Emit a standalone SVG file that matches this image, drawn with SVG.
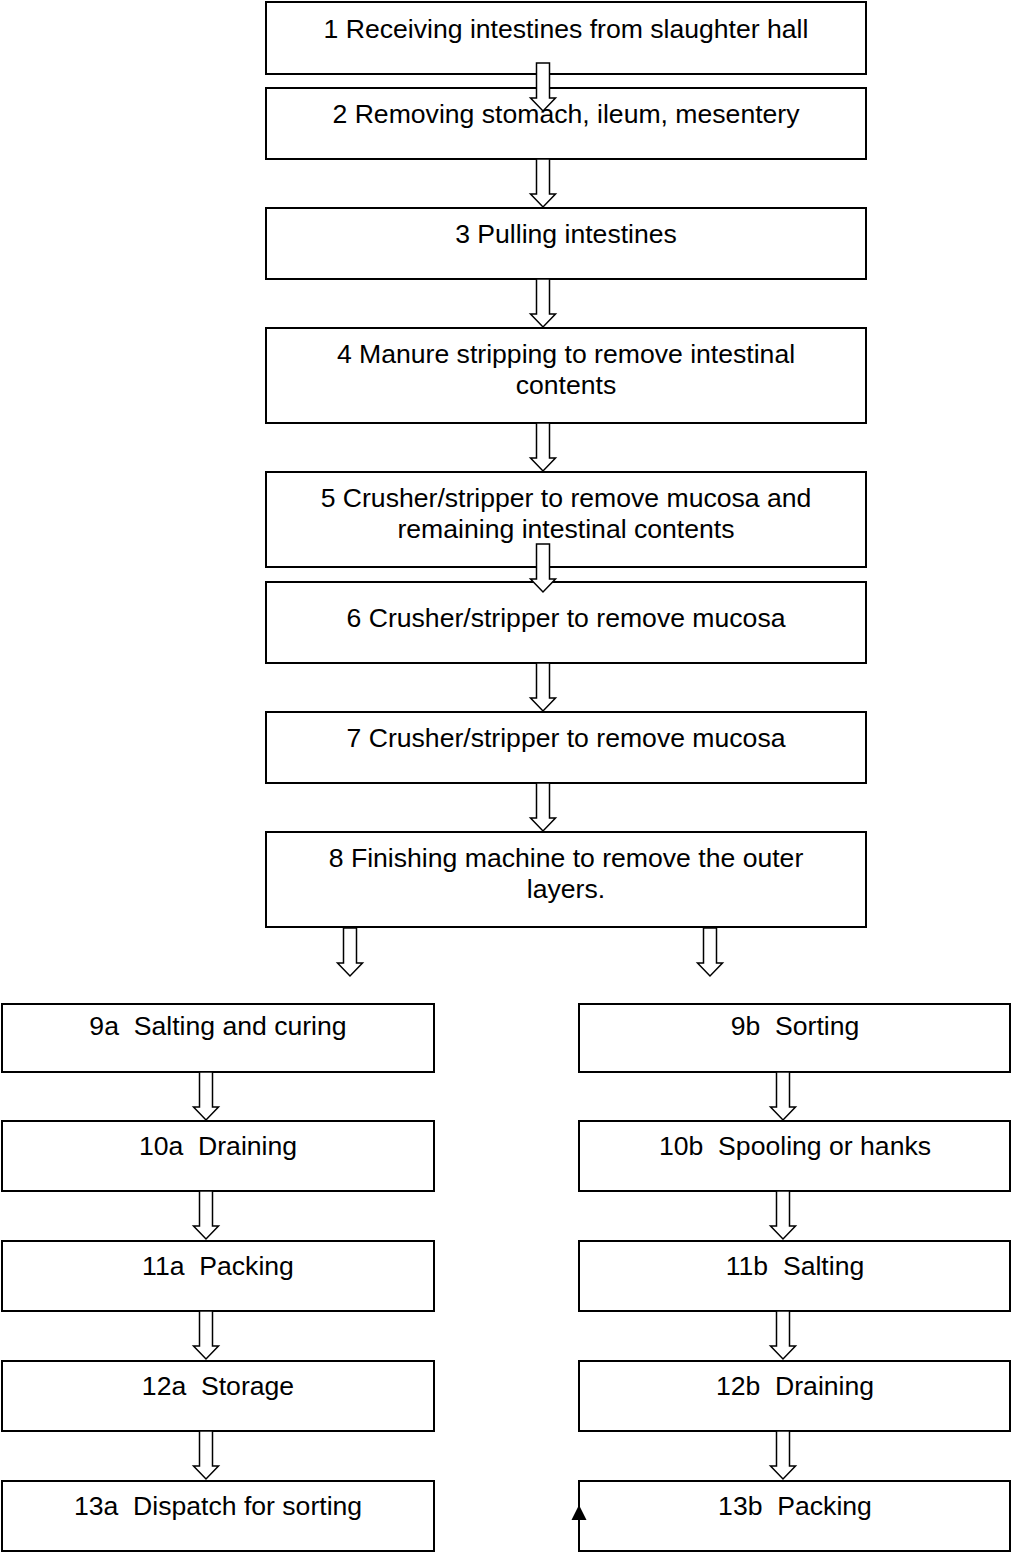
<svg xmlns="http://www.w3.org/2000/svg" width="1012" height="1553" viewBox="0 0 1012 1553">
<style>
.box{fill:#fff;stroke:#000;stroke-width:2}
.t{font-family:"Liberation Sans",Arial,sans-serif;font-size:26.6px;fill:#000;text-anchor:middle;white-space:pre}
.arr{fill:#fff;stroke:#000;stroke-width:1.5}
</style>
<defs>
<path id="ba" d="M-6.5,0 H6.5 V35 H12.5 L0,48 L-12.5,35 H-6.5 Z"/>
</defs>
<g id="n1"><rect class="box" x="266" y="2" width="600" height="72"/><text class="t" x="566" y="38">1 Receiving intestines from slaughter hall</text></g>
<g id="n2"><rect class="box" x="266" y="88" width="600" height="71"/><text class="t" x="566" y="123">2 Removing stomach, ileum, mesentery</text></g>
<g id="n3"><rect class="box" x="266" y="208" width="600" height="71"/><text class="t" x="566" y="243">3 Pulling intestines</text></g>
<g id="n4"><rect class="box" x="266" y="328" width="600" height="95"/><text class="t" x="566" y="363">4 Manure stripping to remove intestinal</text><text class="t" x="566" y="394">contents</text></g>
<g id="n5"><rect class="box" x="266" y="472" width="600" height="95"/><text class="t" x="566" y="507">5 Crusher/stripper to remove mucosa and</text><text class="t" x="566" y="538">remaining intestinal contents</text></g>
<g id="n6"><rect class="box" x="266" y="582" width="600" height="81"/><text class="t" x="566" y="627">6 Crusher/stripper to remove mucosa</text></g>
<g id="n7"><rect class="box" x="266" y="712" width="600" height="71"/><text class="t" x="566" y="747">7 Crusher/stripper to remove mucosa</text></g>
<g id="n8"><rect class="box" x="266" y="832" width="600" height="95"/><text class="t" x="566" y="867">8 Finishing machine to remove the outer</text><text class="t" x="566" y="898">layers.</text></g>
<g id="n9a"><rect class="box" x="2" y="1004" width="432" height="68"/><text class="t" x="218" y="1035">9a  Salting and curing</text></g>
<g id="n10a"><rect class="box" x="2" y="1121" width="432" height="70"/><text class="t" x="218" y="1155">10a  Draining</text></g>
<g id="n11a"><rect class="box" x="2" y="1241" width="432" height="70"/><text class="t" x="218" y="1275">11a  Packing</text></g>
<g id="n12a"><rect class="box" x="2" y="1361" width="432" height="70"/><text class="t" x="218" y="1395">12a  Storage</text></g>
<g id="n13a"><rect class="box" x="2" y="1481" width="432" height="70"/><text class="t" x="218" y="1515">13a  Dispatch for sorting</text></g>
<g id="n9b"><rect class="box" x="579" y="1004" width="431" height="68"/><text class="t" x="795" y="1035">9b  Sorting</text></g>
<g id="n10b"><rect class="box" x="579" y="1121" width="431" height="70"/><text class="t" x="795" y="1155">10b  Spooling or hanks</text></g>
<g id="n11b"><rect class="box" x="579" y="1241" width="431" height="70"/><text class="t" x="795" y="1275">11b  Salting</text></g>
<g id="n12b"><rect class="box" x="579" y="1361" width="431" height="70"/><text class="t" x="795" y="1395">12b  Draining</text></g>
<g id="n13b"><rect class="box" x="579" y="1481" width="431" height="70"/><text class="t" x="795" y="1515">13b  Packing</text></g>
<g id="connectors">
<use href="#ba" class="arr" transform="translate(543,63)"/>
<use href="#ba" class="arr" transform="translate(543,159)"/>
<use href="#ba" class="arr" transform="translate(543,279)"/>
<use href="#ba" class="arr" transform="translate(543,423)"/>
<use href="#ba" class="arr" transform="translate(543,544)"/>
<use href="#ba" class="arr" transform="translate(543,663)"/>
<use href="#ba" class="arr" transform="translate(543,783)"/>
<use href="#ba" class="arr" transform="translate(350,928)"/>
<use href="#ba" class="arr" transform="translate(710,928)"/>
<use href="#ba" class="arr" transform="translate(206,1072)"/>
<use href="#ba" class="arr" transform="translate(206,1191)"/>
<use href="#ba" class="arr" transform="translate(206,1311)"/>
<use href="#ba" class="arr" transform="translate(206,1431)"/>
<use href="#ba" class="arr" transform="translate(783,1072)"/>
<use href="#ba" class="arr" transform="translate(783,1191)"/>
<use href="#ba" class="arr" transform="translate(783,1311)"/>
<use href="#ba" class="arr" transform="translate(783,1431)"/>
<path d="M579,1505 L586.5,1520 L571.5,1520 Z" fill="#000"/>
</g>
</svg>
